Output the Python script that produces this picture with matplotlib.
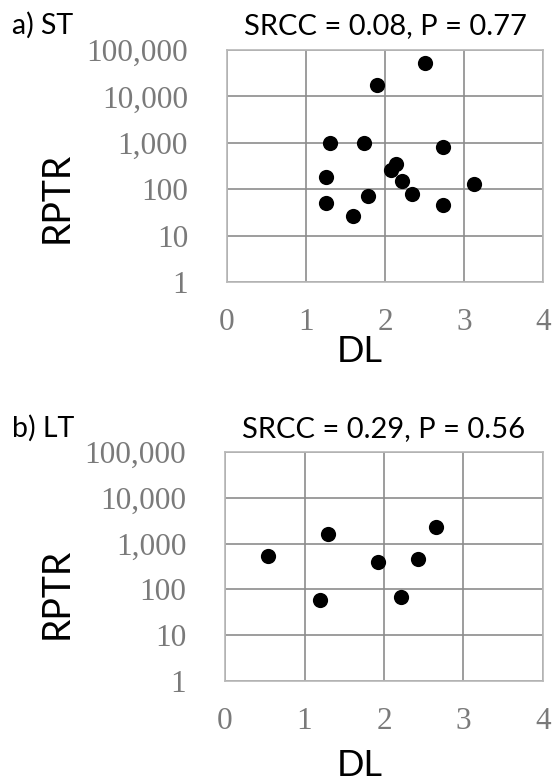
import matplotlib
matplotlib.use("Agg")
import matplotlib.pyplot as plt
from matplotlib.ticker import FixedLocator, FixedFormatter

# a) ST
st_dl = [2.51, 1.90, 1.31, 1.74, 2.73, 1.25, 2.14, 2.08, 2.22, 3.13, 1.79, 2.34, 1.25, 2.73, 1.60]
st_rptr = [52500, 17800, 1000, 1000, 820, 180, 350, 260, 150, 128, 72, 80, 50, 46, 27]

# b) LT
lt_dl = [0.54, 1.29, 1.20, 1.92, 2.43, 2.22, 2.65]
lt_rptr = [530, 1590, 59, 400, 450, 69, 2290]

panel_names = ["a) ST", "b) LT"]
stats = ["SRCC = 0.08, P = 0.77", "SRCC = 0.29, P = 0.56"]
x_ticks = [0, 1, 2, 3, 4]
y_ticks = [1, 10, 100, 1000, 10000, 100000]
y_tick_labels = ["1", "10", "100", "1,000", "10,000", "100,000"]

sans = "Lato"
serif = "Liberation Serif"

fig = plt.figure(figsize=(5.53, 7.82), dpi=100)

ax_pos = [[0.4105, 0.6394, 0.5714, 0.2967],
          [0.4069, 0.1292, 0.5750, 0.2928]]
name_y = [0.9565, 0.4412]
rptr_y = [0.748, 0.2417]
dl_y = [0.5499, 0.0217]

data = [(st_dl, st_rptr), (lt_dl, lt_rptr)]

for i in range(2):
    ax = fig.add_axes(ax_pos[i])
    xs, ys = data[i]
    ax.scatter(xs, ys, s=120, color="black", zorder=3, linewidths=0)
    ax.set_yscale("log")
    ax.set_xlim(0, 4)
    ax.set_ylim(1, 100000)
    ax.xaxis.set_major_locator(FixedLocator(x_ticks))
    ax.yaxis.set_major_locator(FixedLocator(y_ticks))
    ax.yaxis.set_major_formatter(FixedFormatter(y_tick_labels))
    ax.yaxis.set_minor_locator(FixedLocator([]))
    ax.grid(True, color="#8c8c8c", linewidth=1.2)
    for s in ax.spines.values():
        s.set_color("#b8b8b8")
        s.set_linewidth(1.2)
    ax.tick_params(length=0, labelcolor="#7a7a7a", labelsize=22.5)
    ax.tick_params(axis="y", pad=28)
    ax.tick_params(axis="x", pad=19)
    for lab in ax.get_xticklabels() + ax.get_yticklabels():
        lab.set_family(serif)

    fig.text(12 / 553, name_y[i], panel_names[i], fontsize=20.5, family=sans,
             ha="left", va="baseline")
    fig.text(ax_pos[i][0] + ax_pos[i][2] / 2, name_y[i], stats[i], fontsize=21,
             family=sans, ha="center", va="baseline")
    fig.text(0.103, rptr_y[i], "RPTR", fontsize=27, family=sans, rotation=90,
             ha="center", va="center")
    fig.text(0.651, dl_y[i], "DL", fontsize=26, family=sans,
             ha="center", va="center")

fig.savefig("out.png", dpi=100)
